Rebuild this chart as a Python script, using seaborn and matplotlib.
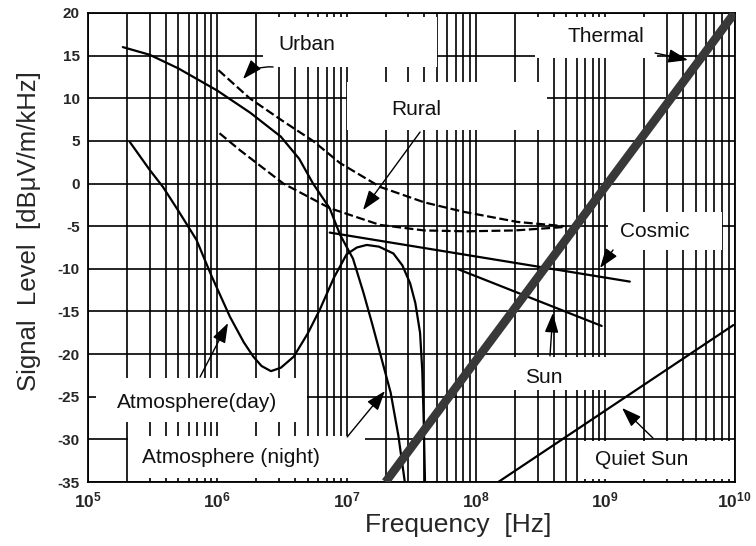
import numpy as np
import pandas as pd
import matplotlib
matplotlib.use("Agg")
import matplotlib.pyplot as plt
import seaborn as sns
from matplotlib.patches import Rectangle
from matplotlib.ticker import LogLocator, NullFormatter

# ---- noise curves: frequency [Hz] and level [dBuV/m/kHz] ----
night_f = [1.86e5, 3.0e5, 5.0e5, 1.0e6, 1.8e6, 3.1e6, 4.3e6, 5.5e6, 7.4e6, 8.9e6,
           1.12e7, 1.35e7, 1.58e7, 1.86e7, 2.19e7, 2.51e7, 2.82e7]
night_db = [16.0, 15.1, 13.5, 10.9, 8.3, 5.5, 2.9, 0.0, -2.9, -6.0,
            -8.8, -12.8, -16.5, -20.5, -24.5, -29.5, -35.0]

day_f = [2.1e5, 3.0e5, 3.8e5, 5.0e5, 6.9e5, 9.0e5, 1.25e6, 1.6e6, 1.9e6, 2.2e6,
         2.6e6, 3.1e6, 3.9e6, 5.0e6, 6.2e6, 8.0e6, 1.0e7, 1.2e7, 1.43e7, 1.78e7,
         2.3e7, 2.7e7, 3.1e7, 3.4e7, 3.7e7, 3.85e7, 3.95e7, 4.04e7]
day_db = [4.9, 1.6, -0.4, -3.2, -6.6, -10.8, -15.6, -18.6, -20.3, -21.4,
          -22.0, -21.6, -20.3, -17.6, -14.8, -11.0, -8.3, -7.5, -7.2, -7.4,
          -8.2, -9.6, -11.7, -14.0, -17.5, -22.0, -28.0, -35.0]

urban_f = [1.02e6, 1.78e6, 3.16e6, 5.5e6, 8.9e6, 1.82e7, 3.98e7, 7.94e7, 2.09e8, 4.79e8]
urban_db = [13.3, 10.0, 7.4, 5.0, 2.4, -0.4, -2.2, -3.3, -4.5, -5.0]

rural_f = [1.04e6, 1.5e6, 3.24e6, 7.45e6, 1.81e7, 3.98e7, 8.5e7, 2.0e8, 4.79e8]
rural_db = [5.9, 3.9, 0.0, -2.9, -4.85, -5.5, -5.6, -5.5, -5.1]

cosmic_f = [7.4e6, 1.55e9]
cosmic_db = [-5.75, -11.5]

sun_f = [7.3e7, 9.4e8]
sun_db = [-10.05, -16.7]

quiet_sun_f = [1.49e8, 9.8e9]
quiet_sun_db = [-35.0, -16.6]

thermal_f = [2.0e7, 1.0e10]
thermal_db = [-35.0, 20.0]

# ---- axis ticks ----
x_ticks = [1e5, 1e6, 1e7, 1e8, 1e9, 1e10]
x_tick_labels = [r"$\mathbf{10^{5}}$", r"$\mathbf{10^{6}}$", r"$\mathbf{10^{7}}$",
                 r"$\mathbf{10^{8}}$", r"$\mathbf{10^{9}}$", r"$\mathbf{10^{10}}$"]
y_ticks = [20, 15, 10, 5, 0, -5, -10, -15, -20, -25, -30, -35]
y_tick_labels = ["20", "15", "10", "5", "0", "-5", "-10", "-15", "-20", "-25", "-30", "-35"]

sns.set_theme(style="white")
plt.rcParams["font.family"] = ["Liberation Sans", "DejaVu Sans"]
plt.rcParams["axes.unicode_minus"] = False
plt.rcParams["mathtext.fontset"] = "custom"
plt.rcParams["mathtext.rm"] = "Liberation Sans"
plt.rcParams["mathtext.bf"] = "Liberation Sans:bold"

fig = plt.figure(figsize=(7.56, 5.46), dpi=100)
ax = fig.add_axes([88 / 756, 1 - 482 / 546, 646.5 / 756, 469 / 546])
ax.set_xscale("log")
ax.set_xlim(1e5, 1e10)
ax.set_ylim(-35, 20)

# grid: every 5 dB, every 1..9 x decade
ax.set_axisbelow(True)
ax.set_xticks(x_ticks)
ax.set_xticklabels(x_tick_labels, fontsize=12.5)
ax.xaxis.set_minor_locator(LogLocator(base=10, subs=np.arange(2, 10)))
ax.xaxis.set_minor_formatter(NullFormatter())
ax.set_yticks(y_ticks)
ax.set_yticklabels(y_tick_labels, fontsize=11, fontweight="bold")
ax.grid(True, which="both", axis="x", color="black", lw=1.2)
ax.grid(True, which="major", axis="y", color="black", lw=1.2)
ax.tick_params(axis="both", which="both", length=0)
ax.tick_params(axis="x", pad=6)
ax.tick_params(axis="y", pad=6)
for s in ax.spines.values():
    s.set_color("black")
    s.set_linewidth(1.3)

# white label panels over the grid
panels = [
    (2.25e6, 5.0e7, 13.67, 19.53),    # Urban
    (1.01e7, 3.55e8, 6.28, 11.91),    # Rural
    (2.86e8, 2.52e9, 14.72, 19.53),   # Thermal
    (1.05e9, 8.0e9, -7.79, -3.34),    # Cosmic
    (1.68e8, 1.86e9, -24.21, -20.34), # Sun
    (6.73e8, 9.4e9, -34.65, -30.19),  # Quiet Sun
    (1.15e5, 4.94e6, -27.97, -22.8),  # Atmosphere(day)
    (2.04e5, 1.39e7, -34.53, -29.6),  # Atmosphere (night)
]
for f0, f1, y0, y1 in panels:
    ax.add_patch(Rectangle((f0, y0), f1 - f0, y1 - y0, facecolor="white",
                           edgecolor="none", zorder=1))

line_kw = dict(ax=ax, color="black", lw=1.6, sort=False, estimator=None, zorder=3)
sns.lineplot(x=night_f, y=night_db, **line_kw)
sns.lineplot(x=day_f, y=day_db, **line_kw)
sns.lineplot(x=cosmic_f, y=cosmic_db, **line_kw)
sns.lineplot(x=sun_f, y=sun_db, **line_kw)
sns.lineplot(x=quiet_sun_f, y=quiet_sun_db, **line_kw)
sns.lineplot(x=urban_f, y=urban_db, linestyle=(0, (4, 1.6)), **line_kw)
sns.lineplot(x=rural_f, y=rural_db, linestyle=(0, (4, 1.6)), **line_kw)
sns.lineplot(x=thermal_f, y=thermal_db, ax=ax, color="#383838", lw=6.2,
             sort=False, estimator=None, zorder=4, solid_capstyle="butt")

# labels
labels = [
    ("Urban", 4.94e6, 16.25),
    ("Rural", 3.44e7, 8.74),
    ("Thermal", 1.01e9, 17.3),
    ("Cosmic", 2.43e9, -5.68),
    ("Sun", 3.37e8, -22.7),
    ("Quiet Sun", 1.93e9, -32.4),
    ("Atmosphere(day)", 6.97e5, -25.7),
    ("Atmosphere (night)", 1.28e6, -32.07),
]
for txt, f, y in labels:
    ax.text(f, y, txt, fontsize=15, ha="center", va="center", color="#111111", zorder=5)

# pointer arrows: (tail_f, tail_db, head_f, head_db, curvature)
arrows = [
    (2.70e6, 13.67, 1.58e6, 12.26, 0.25),   # Urban
    (3.70e7, 6.04, 1.34e7, -3.10, 0.0),     # Rural
    (2.43e9, 15.31, 4.37e9, 14.49, 0.0),    # Thermal
    (1.15e9, -7.79, 9.12e8, -9.90, 0.0),    # Cosmic
    (3.74e8, -20.22, 3.94e8, -15.18, 0.0),  # Sun
    (2.34e9, -29.84, 1.35e9, -26.32, 0.0),  # Quiet Sun
    (7.35e5, -22.69, 1.21e6, -16.36, 0.0),  # Atmosphere(day)
    (1.01e7, -29.72, 1.98e7, -24.33, 0.0),  # Atmosphere (night)
]
for tf, ty, hf, hy, rad in arrows:
    ax.annotate("", xy=(hf, hy), xytext=(tf, ty),
                arrowprops=dict(arrowstyle="-|>,head_length=1.0,head_width=0.35",
                                color="black", lw=1.0, shrinkA=0, shrinkB=0,
                                connectionstyle=f"arc3,rad={rad}"),
                zorder=5)

fig.text(458 / 756, 1 - 525 / 546, "Frequency  [Hz]", fontsize=19,
         ha="center", va="center")
fig.text(29 / 756, 1 - 231 / 546, "Signal  Level  [dB\u03bcV/m/kHz]", fontsize=18.5,
         ha="center", va="center", rotation=90)

fig.savefig("out.png", dpi=100, facecolor="white")
